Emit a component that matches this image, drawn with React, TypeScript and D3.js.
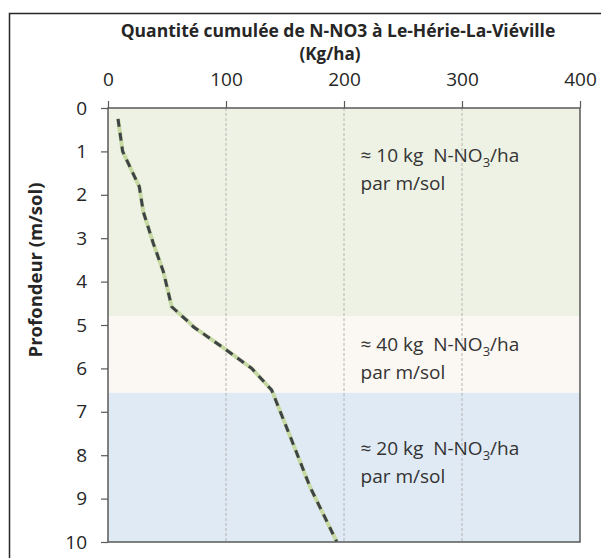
import { useEffect, useRef } from "react";
import * as d3 from "d3";

// cumulated N-NO3 (kg/ha) vs depth (m)
const cumul = [8.5, 12.4, 26.5, 29.9, 38.4, 46.9, 54, 69.5, 72.3, 100.6, 121.8, 138.7, 155.6, 171.2, 193.8];
const depth = [0.25, 1.0, 1.81, 2.39, 3.12, 3.77, 4.58, 4.96, 5.04, 5.58, 6.0, 6.5, 7.65, 8.73, 9.99];

const xTicks = [0, 100, 200, 300, 400];
const yTicks = [0, 1, 2, 3, 4, 5, 6, 7, 8, 9, 10];

const bandFrom = [0, 4.8, 6.56];
const bandTo = [4.8, 6.56, 10];
const bandColors = ["#eef2e4", "#fbf7f2", "#e0eaf4"];
const bandRate = ["10", "40", "20"];
const bandLabelDepth = [1.25, 5.6, 8.0];

const FONT = "'Open Sans', sans-serif";

export default function App() {
  const svgRef = useRef<SVGSVGElement>(null);

  useEffect(() => {
    const svg = d3.select(svgRef.current);
    svg.selectAll("*").remove();

    const W = 601;
    const H = 558;
    const margin = { top: 108, left: 108, right: 21, bottom: 16 };
    const width = W - margin.left - margin.right;
    const height = H - margin.top - margin.bottom;

    svg.attr("width", W).attr("height", H);

    // outer frame (runs off the right and bottom edges)
    svg
      .append("rect")
      .attr("x", 9.5)
      .attr("y", 13.5)
      .attr("width", 620)
      .attr("height", 580)
      .attr("fill", "white")
      .attr("stroke", "#262626")
      .attr("stroke-width", 1.5);

    const x = d3.scaleLinear().domain([0, 400]).range([0, width]);
    const y = d3.scaleLinear().domain([0, 10]).range([0, height]);

    const g = svg.append("g").attr("transform", `translate(${margin.left},${margin.top})`);

    // depth bands
    bandFrom.forEach((b, i) => {
      g.append("rect")
        .attr("x", 0)
        .attr("y", y(b))
        .attr("width", width)
        .attr("height", y(bandTo[i]) - y(b))
        .attr("fill", bandColors[i]);
    });

    // vertical grid
    xTicks.slice(1, -1).forEach((t) => {
      g.append("line")
        .attr("x1", x(t))
        .attr("x2", x(t))
        .attr("y1", 0)
        .attr("y2", height)
        .attr("stroke", "#a6a6a6")
        .attr("stroke-width", 0.8)
        .attr("stroke-dasharray", "3,2");
    });

    // band annotations
    bandRate.forEach((r, i) => {
      const t = g
        .append("text")
        .attr("x", x(214))
        .attr("y", y(bandLabelDepth[i]))
        .attr("font-family", FONT)
        .attr("font-size", "19px")
        .attr("fill", "#333");
      t.append("tspan").text(`≈ ${r} kg\u00a0 N-NO`);
      t.append("tspan").attr("font-size", "13px").attr("dy", 5).text("3");
      t.append("tspan").attr("dy", -5).text("/ha");
      g.append("text")
        .attr("x", x(214))
        .attr("y", y(bandLabelDepth[i]) + 28)
        .attr("font-family", FONT)
        .attr("font-size", "19px")
        .attr("fill", "#333")
        .text("par m/sol");
    });

    // profile line: light green under dark dashes
    const pts = cumul.map((v, i) => [v, depth[i]] as [number, number]);
    const line = d3
      .line<[number, number]>()
      .x((d) => x(d[0]))
      .y((d) => y(d[1]));

    g.append("path")
      .datum(pts)
      .attr("fill", "none")
      .attr("stroke", "#c6d9a2")
      .attr("stroke-width", 4)
      .attr("d", line);

    g.append("path")
      .datum(pts)
      .attr("fill", "none")
      .attr("stroke", "#3f4347")
      .attr("stroke-width", 3)
      .attr("stroke-dasharray", "8,6")
      .attr("d", line);

    // plot box
    g.append("rect")
      .attr("x", 0)
      .attr("y", 0)
      .attr("width", width)
      .attr("height", height)
      .attr("fill", "none")
      .attr("stroke", "#595959")
      .attr("stroke-width", 1.5);

    // axes
    const xAxis = g
      .append("g")
      .call(d3.axisTop(x).tickValues(xTicks).tickSize(7).tickPadding(15))
      .attr("font-family", FONT)
      .attr("font-size", "19px");
    xAxis.select(".domain").remove();
    xAxis.selectAll("line").attr("stroke", "#595959").attr("stroke-width", 1.2);
    xAxis.selectAll("text").attr("fill", "#262626");

    const yAxis = g
      .append("g")
      .call(d3.axisLeft(y).tickValues(yTicks).tickSize(7).tickPadding(14))
      .attr("font-family", FONT)
      .attr("font-size", "19px");
    yAxis.select(".domain").remove();
    yAxis.selectAll("line").attr("stroke", "#595959").attr("stroke-width", 1.2);
    yAxis.selectAll("text").attr("fill", "#262626");

    // titles
    svg
      .append("text")
      .attr("x", 338)
      .attr("y", 37)
      .attr("text-anchor", "middle")
      .attr("font-family", FONT)
      .attr("font-weight", "bold")
      .attr("font-size", "17.5px")
      .attr("fill", "#262626")
      .text("Quantité cumulée de N-NO3 à Le-Hérie-La-Viéville");
    svg
      .append("text")
      .attr("x", 330)
      .attr("y", 60)
      .attr("text-anchor", "middle")
      .attr("font-family", FONT)
      .attr("font-weight", "bold")
      .attr("font-size", "17px")
      .attr("fill", "#262626")
      .text("(Kg/ha)");
    svg
      .append("text")
      .attr("transform", "translate(42,270) rotate(-90)")
      .attr("text-anchor", "middle")
      .attr("font-family", FONT)
      .attr("font-weight", "bold")
      .attr("font-size", "18.5px")
      .attr("fill", "#262626")
      .text("Profondeur (m/sol)");
  }, []);

  return (
    <svg
      ref={svgRef}
      style={{ position: "absolute", left: 0, top: 0, display: "block" }}
    />
  );
}
